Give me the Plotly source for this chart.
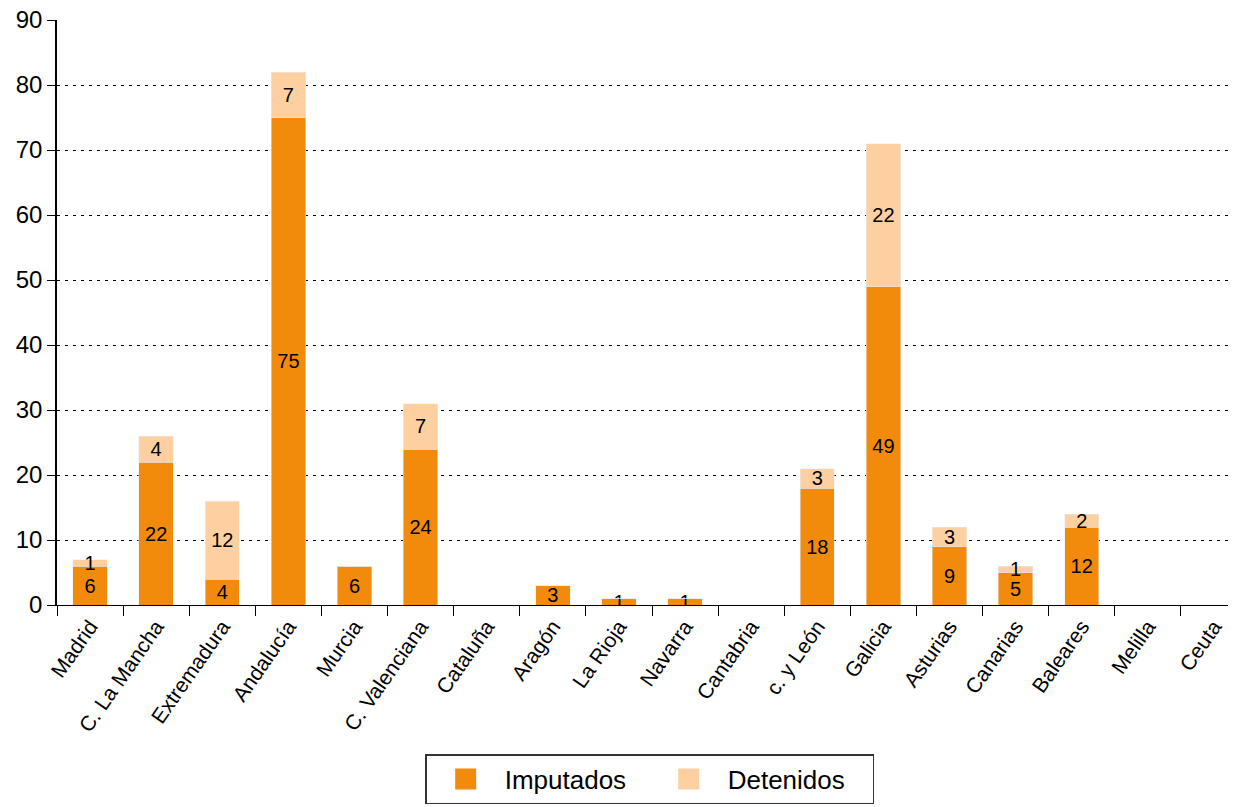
import plotly.graph_objects as go

categories = ["Madrid", "C. La Mancha", "Extremadura", "Andalucía", "Murcia", "C. Valenciana",
              "Cataluña", "Aragón", "La Rioja", "Navarra", "Cantabria", "c. y León", "Galicia",
              "Asturias", "Canarias", "Baleares", "Melilla", "Ceuta"]
imputados = [6, 22, 4, 75, 6, 24, 0, 3, 1, 1, 0, 18, 49, 9, 5, 12, 0, 0]
detenidos = [1, 4, 12, 7, 0, 7, 0, 0, 0, 0, 0, 3, 22, 3, 1, 2, 0, 0]

ORANGE = "#F28A0B"
LIGHT = "#FED0A1"
FONT = "Liberation Sans, Arial, Helvetica, sans-serif"

def labels(vals):
    return [str(v) if v else "" for v in vals]

fig = go.Figure()
for name, vals, col in [("Imputados", imputados, ORANGE), ("Detenidos", detenidos, LIGHT)]:
    fig.add_trace(go.Bar(x=categories, y=vals, name=name, marker_color=col, showlegend=False,
                         text=labels(vals), textposition="inside", insidetextanchor="middle",
                         textangle=0, textfont=dict(color="black", size=20, family=FONT),
                         constraintext="none"))
# legend entries with large square swatches
for name, col in [("Imputados", ORANGE), ("Detenidos", LIGHT)]:
    fig.add_trace(go.Scatter(x=[None], y=[None], mode="markers", name=name,
                             marker=dict(symbol="square", size=22, color=col,
                                         line=dict(color=col, width=5))))

fig.update_layout(
    barmode="stack", bargap=0.48,
    width=1239, height=807,
    margin=dict(l=49, r=0, t=12, b=210),
    plot_bgcolor="white", paper_bgcolor="white",
    font=dict(family=FONT, color="black"),
    uniformtext=dict(mode="show", minsize=20),
    legend=dict(orientation="h", x=0.3094, xanchor="left", y=-0.255, yanchor="top",
                traceorder="normal", bordercolor="#333333", borderwidth=1.5,
                font=dict(size=26), itemwidth=68, entrywidth=140,
                itemsizing="trace"),
    yaxis=dict(range=[0, 90], dtick=10, showgrid=True, gridcolor="black", griddash="3px,5px",
               gridwidth=1, showline=True, linecolor="black", linewidth=1.5,
               ticks="outside", ticklen=8, tickcolor="black", tickfont=dict(size=24),
               zeroline=False, automargin=False, ticklabeloverflow="allow"),
    xaxis=dict(showline=True, linecolor="black", linewidth=1, ticks="outside",
               tickson="boundaries", ticklen=10, tickcolor="black", tickangle=-55,
               tickfont=dict(size=21), automargin=False, ticklabeloverflow="allow"),
)

fig.write_html("out.html")
